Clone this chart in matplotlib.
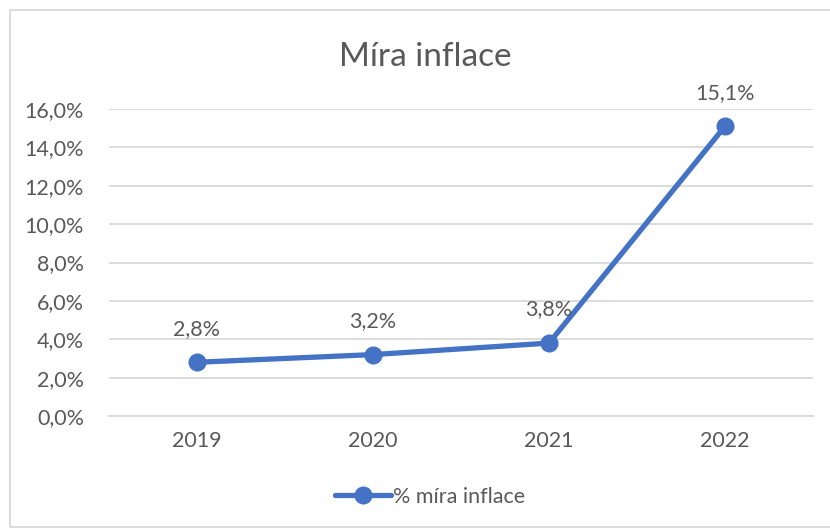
import matplotlib.pyplot as plt
from matplotlib.patches import Rectangle

plt.rcParams['font.family'] = ['Lato', 'DejaVu Sans']

# Data
years = ["2019", "2020", "2021", "2022"]
inflation = [2.8, 3.2, 3.8, 15.1]
yticks = [0, 2, 4, 6, 8, 10, 12, 14, 16]

blue = "#4472C4"
text_col = "#595959"
grid_col = "#D9D9D9"

fig = plt.figure(figsize=(8.3, 5.3), dpi=100)
ax = fig.add_axes([109 / 830, 114 / 530, 704 / 830, 307 / 530])

x = range(len(years))
ax.plot(x, inflation, color=blue, linewidth=3.8, marker="o", markersize=12,
        solid_capstyle="round", label="% míra inflace", zorder=3)

for xi, v in zip(x, inflation):
    ax.annotate(f"{v:.1f}%".replace(".", ","), (xi, v), xytext=(0, 17),
                textcoords="offset points", ha="center", va="bottom",
                fontsize=15.5, color=text_col)

ax.set_xlim(-0.5, len(years) - 0.5)
ax.set_ylim(0, 16)
ax.set_xticks(list(x))
ax.set_xticklabels(years)
ax.set_yticks(yticks)
ax.set_yticklabels([f"{t:.1f}%".replace(".", ",") for t in yticks])
ax.tick_params(axis="both", length=0, labelsize=15.5, labelcolor=text_col)
ax.tick_params(axis="y", pad=18)
ax.tick_params(axis="x", pad=11)
ax.grid(axis="y", color=grid_col, linewidth=1.3)
ax.set_axisbelow(True)
for s in ax.spines.values():
    s.set_visible(False)
ax.spines["bottom"].set_visible(True)
ax.spines["bottom"].set_color(grid_col)
ax.spines["bottom"].set_linewidth(1.3)

fig.text(0.512, 1 - 57 / 530, "Míra inflace", ha="center", va="center",
         fontsize=24, color=text_col)

fig.legend(loc="center", bbox_to_anchor=(0.518, 1 - 497 / 530), frameon=False,
           fontsize=15.5, labelcolor=text_col, handlelength=2.6, handletextpad=0.1)

fig.patches.append(Rectangle((10 / 830, 3 / 530), 830, 517 / 530,
                             transform=fig.transFigure, fill=False,
                             edgecolor=grid_col, linewidth=1.3))

fig.savefig("out.png", dpi=100)
